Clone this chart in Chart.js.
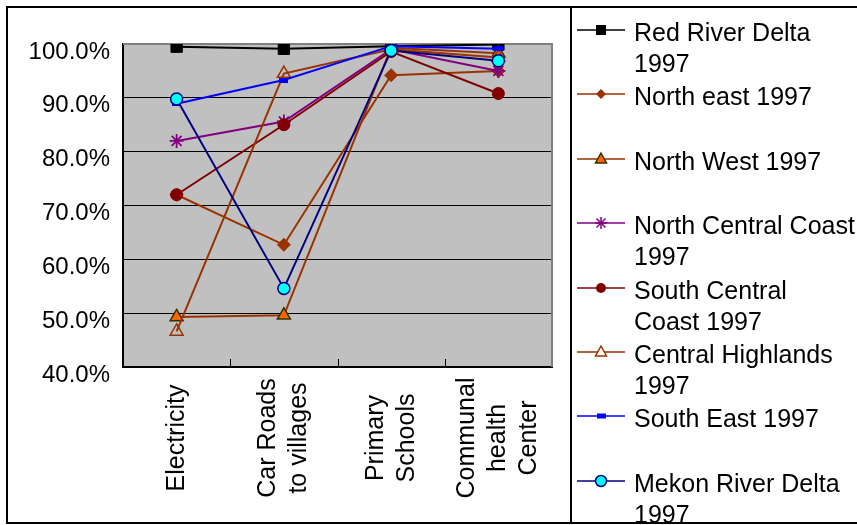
<!DOCTYPE html>
<html>
<head>
<meta charset="utf-8">
<script src="https://cdn.jsdelivr.net/npm/chart.js@4/dist/chart.umd.min.js"></script>
<style>
  html, body { margin: 0; padding: 0; background: #fff; }
  #wrap { position: relative; width: 857px; height: 525px; overflow: hidden;
          font-family: "Liberation Sans", Arial, sans-serif; color: #000; }
  #chart { position: absolute; left: 0; top: 0; }
  #frame { position: absolute; left: 6px; top: 6px; width: 1000px; height: 518px;
           border: 2px solid #000; box-sizing: border-box; pointer-events: none; }
  #divider { position: absolute; left: 570px; top: 6px; width: 2px; height: 518px; background: #000; }
  #legend { position: absolute; left: 572px; top: 8px; width: 300px; height: 514px; overflow: hidden; }
  .item { position: absolute; left: 0; width: 300px; }
  .item svg { position: absolute; left: 5px; top: 2px; }
  .item .txt { position: absolute; left: 62px; top: 1px; font-size: 25px; line-height: 31px; white-space: nowrap; }
</style>
</head>
<body>
<div id="wrap">
  <canvas id="chart" width="857" height="525"></canvas>
  <div id="legend"></div>
  <div id="divider"></div>
  <div id="frame"></div>
</div>
<script>
// Categories (each entry is the list of lines of the axis label)
const categories = [
  ["Electricity"],
  ["Car Roads", "to villages"],
  ["Primary", "Schools"],
  ["Communal", "health", "Center"]
];

// Share of communes with access, in percent
const redRiverDelta     = [99.5, 99.1, 99.6, 99.9];
const northEast         = [72.0, 62.7, 94.2, 95.0];
const northWest         = [49.3, 49.6, 99.3, 98.3];
const northCentralCoast = [82.0, 85.6, 99.0, 95.0];
const southCentralCoast = [72.0, 85.0, 98.6, 90.8];
const centralHighlands  = [46.6, 94.5, 99.0, 97.5];
const southEast         = [88.9, 93.3, 99.6, 99.1];
const mekonRiverDelta   = [89.8, 54.6, 98.8, 96.9];

// Series names, split into the lines shown in the legend
const seriesNames = [
  ["Red River Delta", "1997"],
  ["North east 1997"],
  ["North West 1997"],
  ["North Central Coast", "1997"],
  ["South Central", "Coast 1997"],
  ["Central Highlands", "1997"],
  ["South East 1997"],
  ["Mekon River Delta", "1997"]
];

// Y axis ticks
const yMin = 40, yMax = 100, yStep = 10;

// Small flat dash used as the South East marker
const dashMark = document.createElement('canvas');
dashMark.width = 9; dashMark.height = 5;
(function () { const c = dashMark.getContext('2d'); c.fillStyle = '#0000FF'; c.fillRect(0, 0, 9, 5); })();

const seriesValues = [redRiverDelta, northEast, northWest, northCentralCoast,
                      southCentralCoast, centralHighlands, southEast, mekonRiverDelta];

const styles = [
  { line: '#000000', pointStyle: 'rect',     radius: 8,   fill: '#000000', border: '#000000', bw: 1 },
  { line: '#993300', pointStyle: 'rectRot',  radius: 6.5, fill: '#993300', border: '#993300', bw: 1 },
  { line: '#993300', pointStyle: 'triangle', radius: 7.5, fill: '#FF6600', border: '#333300', bw: 1.5 },
  { line: '#800080', pointStyle: 'star',     radius: 7,   fill: '#800080', border: '#800080', bw: 1.8 },
  { line: '#800000', pointStyle: 'circle',   radius: 6,   fill: '#800000', border: '#800000', bw: 1 },
  { line: '#993300', pointStyle: 'triangle', radius: 7.5, fill: 'rgba(0,0,0,0)', border: '#993300', bw: 1.5 },
  { line: '#0000FF', pointStyle: dashMark,   radius: 5,   fill: '#0000FF', border: '#0000FF', bw: 1 },
  { line: '#000080', pointStyle: 'circle',   radius: 6,   fill: '#00FFFF', border: '#000080', bw: 1.5 }
];

const datasets = seriesValues.map((vals, i) => ({
  label: seriesNames[i].join(' '),
  data: vals,
  borderColor: styles[i].line,
  borderWidth: 2,
  pointStyle: styles[i].pointStyle,
  pointRadius: styles[i].radius,
  pointBackgroundColor: styles[i].fill,
  pointBorderColor: styles[i].border,
  pointBorderWidth: styles[i].bw,
  tension: 0,
  fill: false,
  order: seriesValues.length - i
}));

// Plot background, outer plot border, inward category ticks and rotated category labels
const plotDecor = {
  id: 'plotDecor',
  beforeDraw(chart) {
    const { ctx, chartArea: a } = chart;
    ctx.save();
    ctx.fillStyle = '#C0C0C0';
    ctx.fillRect(a.left, a.top, a.right - a.left, a.bottom - a.top);
    ctx.restore();
  },
  beforeDatasetsDraw(chart) {
    const { ctx, chartArea: a, scales: { x } } = chart;
    ctx.save();
    ctx.strokeStyle = '#808080';
    ctx.lineWidth = 2;
    ctx.beginPath();
    ctx.moveTo(a.left, a.top);
    ctx.lineTo(a.right, a.top);
    ctx.lineTo(a.right, a.bottom);
    ctx.stroke();
    ctx.strokeStyle = '#000';
    ctx.lineWidth = 1;
    for (let i = 1; i < x.ticks.length; i++) {
      const px = Math.round((x.getPixelForValue(i - 1) + x.getPixelForValue(i)) / 2) + 0.5;
      ctx.beginPath();
      ctx.moveTo(px, a.bottom);
      ctx.lineTo(px, a.bottom - 8);
      ctx.stroke();
    }
    ctx.restore();
  },
  afterDraw(chart) {
    const { ctx, scales: { x } } = chart;
    const labelCenterY = 438, lineGap = 31;
    ctx.save();
    ctx.fillStyle = '#000';
    ctx.font = '25px "Liberation Sans", Arial, sans-serif';
    ctx.textAlign = 'center';
    ctx.textBaseline = 'middle';
    chart.data.labels.forEach((lines, i) => {
      const px = x.getPixelForValue(i);
      ctx.save();
      ctx.translate(px, labelCenterY);
      ctx.rotate(-Math.PI / 2);
      lines.forEach((ln, j) => {
        ctx.fillText(ln, 0, (j - (lines.length - 1) / 2) * lineGap);
      });
      ctx.restore();
    });
    ctx.restore();
  }
};

new Chart(document.getElementById('chart'), {
  type: 'line',
  data: { labels: categories, datasets },
  options: {
    responsive: false,
    devicePixelRatio: 1,
    animation: false,
    events: [],
    layout: { padding: { left: 0, top: 44, right: 305, bottom: 0 } },
    plugins: { legend: { display: false }, tooltip: { enabled: false } },
    scales: {
      x: {
        type: 'category',
        offset: true,
        afterFit(s) { s.height = 158; },
        grid: { display: true, drawOnChartArea: false, drawTicks: false },
        border: { display: true, color: '#000', width: 2 },
        ticks: { display: false }
      },
      y: {
        min: yMin, max: yMax,
        afterFit(s) { s.width = 123; },
        grid: {
          drawTicks: false,
          color: c => (c.tick && c.tick.value === yMax) ? 'rgba(0,0,0,0)' : '#000',
          lineWidth: 1
        },
        border: { display: true, color: '#000', width: 2 },
        ticks: {
          stepSize: yStep,
          padding: 13,
          labelOffset: 8,
          color: '#000',
          font: { family: '"Liberation Sans", Arial, sans-serif', size: 24 },
          callback: v => v.toFixed(1) + '%'
        }
      }
    }
  },
  plugins: [plotDecor]
});

// Legend built from the same series styles
function markerSvg(s, idx) {
  const cx = 24, cy = 12;
  let m = '';
  switch (idx) {
    case 0: m = `<rect x="${cx-5}" y="${cy-5}" width="10" height="10" fill="#000"/>`; break;
    case 1: m = `<polygon points="${cx},${cy-5} ${cx+5},${cy} ${cx},${cy+5} ${cx-5},${cy}" fill="${s.fill}"/>`; break;
    case 2: m = `<polygon points="${cx},${cy-6} ${cx+5.5},${cy+4} ${cx-5.5},${cy+4}" fill="${s.fill}" stroke="${s.border}" stroke-width="1.5"/>`; break;
    case 3: m = `<g stroke="${s.border}" stroke-width="1.5"><line x1="${cx-6}" y1="${cy}" x2="${cx+6}" y2="${cy}"/><line x1="${cx}" y1="${cy-6}" x2="${cx}" y2="${cy+6}"/><line x1="${cx-4.5}" y1="${cy-4.5}" x2="${cx+4.5}" y2="${cy+4.5}"/><line x1="${cx-4.5}" y1="${cy+4.5}" x2="${cx+4.5}" y2="${cy-4.5}"/></g>`; break;
    case 4: m = `<circle cx="${cx}" cy="${cy}" r="5" fill="${s.fill}"/>`; break;
    case 5: m = `<polygon points="${cx},${cy-6} ${cx+5.5},${cy+4} ${cx-5.5},${cy+4}" fill="#fff" stroke="${s.border}" stroke-width="1.5"/>`; break;
    case 6: m = `<rect x="${cx-4}" y="${cy-2.5}" width="9" height="5" fill="${s.fill}"/>`; break;
    case 7: m = `<circle cx="${cx}" cy="${cy}" r="5.5" fill="${s.fill}" stroke="${s.border}" stroke-width="1.5"/>`; break;
  }
  return `<svg width="50" height="24"><line x1="0" y1="${cy}" x2="48" y2="${cy}" stroke="${s.line}" stroke-width="1.5"/>${m}</svg>`;
}

const legend = document.getElementById('legend');
seriesNames.forEach((lines, i) => {
  const el = document.createElement('div');
  el.className = 'item';
  el.style.top = (8 + i * 64.4) + 'px';
  el.innerHTML = markerSvg(styles[i], i) + `<div class="txt">${lines.join('<br>')}</div>`;
  legend.appendChild(el);
});
</script>
</body>
</html>
